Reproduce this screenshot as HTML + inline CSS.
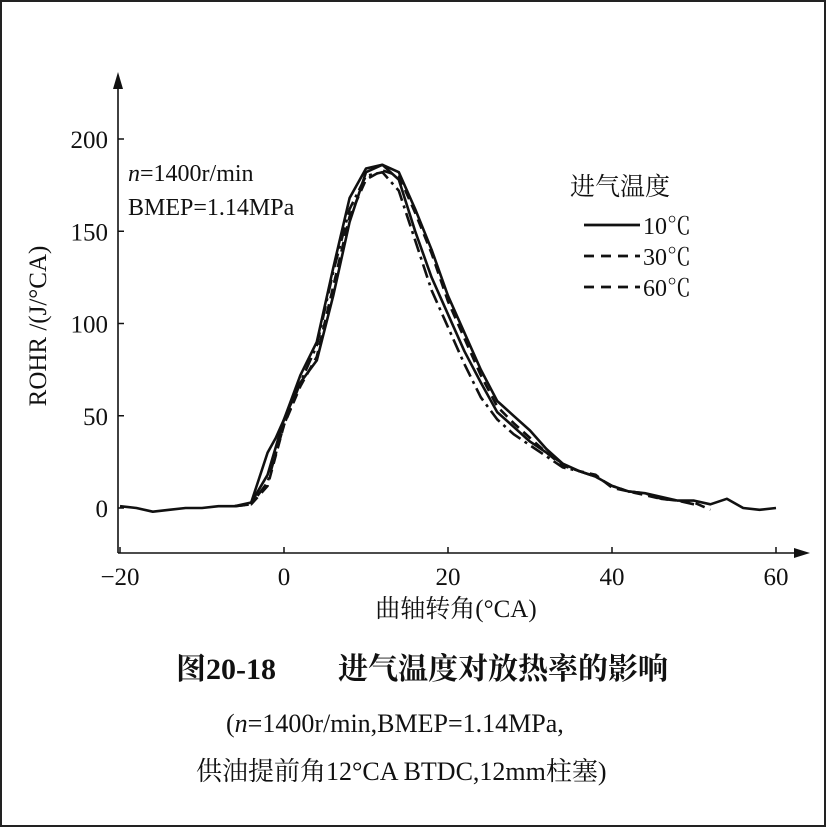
<!DOCTYPE html>
<html><head><meta charset="utf-8"><style>
body{margin:0;background:#fff}
svg text{font-family:"Liberation Serif","Noto Serif CJK SC",serif;fill:#111}
</style></head><body>
<svg width="826" height="827" viewBox="0 0 826 827" xmlns="http://www.w3.org/2000/svg">
<rect x="1" y="1" width="824" height="825" fill="#fff" stroke="#222" stroke-width="2"/>
<g id="axes"></g>
<g id="series"></g>
<text x="128" y="181" font-size="24"><tspan font-style="italic">n</tspan>=1400r/min</text>
<text x="128" y="215" font-size="24">BMEP=1.14MPa</text>
<g>
<text x="570" y="195" font-size="25" font-family="Noto Sans CJK SC">进气温度</text>
<line x1="584" y1="225" x2="640" y2="225" stroke="#111" stroke-width="2.8"/>
<text x="643" y="234" font-size="24">10℃</text>
<line x1="584" y1="256" x2="640" y2="256" stroke="#111" stroke-width="2.8" stroke-dasharray="10,7"/>
<text x="643" y="265" font-size="24">30℃</text>
<line x1="584" y1="287" x2="640" y2="287" stroke="#111" stroke-width="2.8" stroke-dasharray="10,7"/>
<text x="643" y="296" font-size="24">60℃</text>
</g>
<text x="456" y="617" font-size="25" text-anchor="middle">曲轴转角(°CA)</text>
<text transform="translate(46,326) rotate(-90)" font-size="25" text-anchor="middle">ROHR /(J/°CA)</text>
<text x="176" y="679" font-size="30" font-weight="bold" font-family="Noto Sans CJK SC">图20-18</text>
<text x="338" y="679" font-size="30" font-weight="bold" font-family="Noto Sans CJK SC">进气温度对放热率的影响</text>
<text x="226" y="732" font-size="26">(<tspan font-style="italic">n</tspan>=1400r/min,BMEP=1.14MPa,</text>
<text x="196" y="780" font-size="26">供油提前角12°CA BTDC,12mm柱塞)</text>
</svg>
<script>
const xTicks=[-20,0,20,40,60];
const yTicks=[0,50,100,150,200];
const angles10=[-20,-18,-16,-14,-12,-10,-8,-6,-4,-2,0,2,4,6,8,10,12,14,16,18,20,22,24,26,28,30,32,34,36,38,40,42,44,46,48,50,52,54,56,58,60];
const rohr10=[1,0,-2,-1,0,0,1,1,3,18,48,68,80,115,155,182,186,182,162,140,115,95,75,58,50,42,32,24,20,17,12,9,8,6,4,4,2,5,0,-1,0];
const anglesB=[-4,-2,-1,0,2,4,6,8,10,12,14,16,18,20,22,24,26,28,30,32,34];
const rohrB=[3,30,38,48,72,90,130,168,184,186,178,150,125,105,85,68,52,44,36,30,24];
const angles30=[-6,-4,-2,0,2,4,6,8,10,12,14,16,18,20,22,24,26,28,30,32,34,36,38,40,42,44,46,48,50,52];
const rohr30=[1,2,12,45,66,82,120,158,178,183,180,160,138,112,92,72,55,46,38,30,23,20,18,11,9,7,5,4,3,-1];
const angles60=[-6,-4,-2,0,2,4,6,8,10,12,14,16,18,20,22,24,26,28,30,32,34,36,38,40,42,44,46,48,50];
const rohr60=[1,2,14,45,68,88,128,162,180,182,172,145,118,98,78,60,48,40,34,28,22,20,17,12,9,8,5,4,2];
const NS="http://www.w3.org/2000/svg";
const X=v=>284+8.2*v, Y=v=>508-1.845*v;
const ax=document.getElementById('axes');
function mk(t,a,p){const e=document.createElementNS(NS,t);for(const k in a)e.setAttribute(k,a[k]);p.appendChild(e);return e;}
let e=mk('line',{x1:118,y1:553,x2:798,y2:553,stroke:'#111','stroke-width':1.6},ax);


e=mk('polygon',{points:'810,553 794,548 794,558',fill:'#111'},ax);


e=mk('line',{x1:118,y1:553,x2:118,y2:85,stroke:'#111','stroke-width':1.6},ax);


e=mk('polygon',{points:'118,72 113,89 123,89',fill:'#111'},ax);


xTicks.forEach(t=>{
 const l=mk('line',{x1:X(t),y1:553,x2:X(t),y2:547,stroke:'#111','stroke-width':1.5},ax);
 
 
 const s=mk('text',{x:X(t),y:585,'font-size':25,'text-anchor':'middle'},ax);
 s.textContent=(t<0?'\u2212'+(-t):t);
 
 
});
yTicks.forEach(t=>{
 const l=mk('line',{x1:118,y1:Y(t),x2:124,y2:Y(t),stroke:'#111','stroke-width':1.5},ax);
 
 
 const s=mk('text',{x:108,y:Y(t)+9,'font-size':25,'text-anchor':'end'},ax);
 s.textContent=t;
 
 
});
const sg=document.getElementById('series');
function draw(xs,ys,dash,name){
 const d=xs.map((x,i)=>(i?'L':'M')+X(x).toFixed(1)+','+Y(ys[i]).toFixed(1)).join(' ');
 const p=mk('path',{d:d,fill:'none',stroke:'#111','stroke-width':2.6,'stroke-linejoin':'round'},sg);
 if(dash)p.setAttribute('stroke-dasharray',dash);
 
 
}
draw(angles10,rohr10,null,'series-10c');
draw(anglesB,rohrB,null,'series-10c-repeat');
draw(angles30,rohr30,'10,6','series-30c');
draw(angles60,rohr60,'14,5,3,5','series-60c');
</script>
</body></html>
